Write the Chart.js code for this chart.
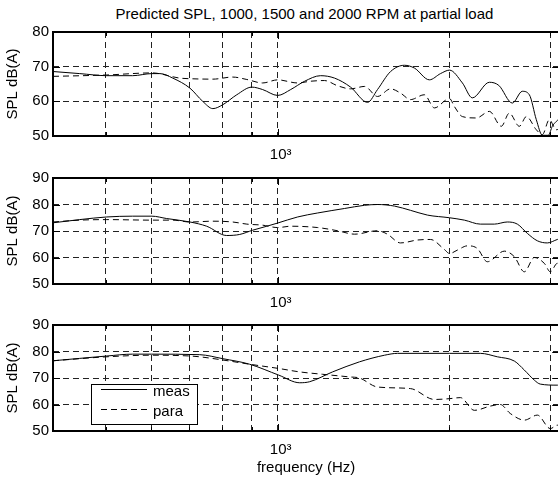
<!DOCTYPE html>
<html>
<head>
<meta charset="utf-8">
<script src="https://cdn.jsdelivr.net/npm/chart.js@4"></script>
<style>
  html, body { margin: 0; padding: 0; background: #fff; }
  body { width: 558px; height: 482px; overflow: hidden; position: relative; font-family: 'Liberation Sans', Arial, sans-serif; }
  canvas { position: absolute; left: 0; }
  #title { position: absolute; left: 51px; width: 507px; top: 5px; text-align: center; font-size: 15px; line-height: 18px; color: #000; white-space: nowrap; }
</style>
</head>
<body>
<div id="title">Predicted SPL, 1000, 1500 and 2000 RPM at partial load</div>
<canvas id="c1" width="560" height="170" style="top:0px"></canvas>
<canvas id="c2" width="560" height="172" style="top:146px"></canvas>
<canvas id="c3" width="560" height="189" style="top:293px"></canvas>
<script>
// ── Data ──────────────────────────────────────────────────────────────────────
const xGrid = [500, 600, 700, 800, 900, 1000, 2000, 3000];
const xMin = 404, xMax = 3114;

// 1000 RPM
const meas1Freq = [404, 450, 502, 557, 602, 622, 655, 702, 739, 770, 801, 848, 901, 941, 1000, 1054, 1115, 1189, 1258, 1342, 1437, 1496, 1577, 1668, 1736, 1844, 1929, 2000, 2107, 2193, 2349, 2440, 2577, 2683, 2760, 2839, 2909, 2980, 3028, 3077, 3114];
const meas1Spl  = [68.6, 68.0, 67.4, 67.4, 68.0, 68.0, 66.7, 63.8, 60.0, 57.9, 59.0, 61.9, 64.1, 63.4, 61.7, 63.4, 65.8, 67.4, 66.7, 64.1, 59.7, 63.4, 68.6, 70.4, 69.6, 66.2, 68.0, 69.0, 65.3, 61.0, 65.5, 64.6, 59.5, 62.9, 61.9, 54.7, 50.2, 50.2, 52.8, 54.2, 55.0];
const para1Freq = [404, 502, 602, 674, 710, 770, 834, 883, 941, 1000, 1084, 1142, 1208, 1273, 1342, 1420, 1496, 1577, 1641, 1709, 1807, 1882, 1976, 2000, 2040, 2107, 2229, 2349, 2465, 2546, 2651, 2727, 2839, 2909, 2992, 3077, 3114];
const para1Spl  = [67.2, 67.6, 68.2, 66.7, 66.5, 66.4, 67.0, 66.3, 65.3, 66.2, 65.3, 65.8, 66.0, 64.5, 63.6, 64.3, 61.4, 63.6, 62.4, 60.5, 61.9, 58.1, 60.5, 60.8, 58.5, 55.6, 55.2, 57.1, 52.8, 56.6, 52.8, 55.6, 51.8, 50.4, 54.7, 51.8, 52.0];

// 1500 RPM
const meas2Freq = [404, 450, 502, 557, 602, 639, 702, 751, 814, 858, 904, 957, 1000, 1084, 1175, 1310, 1420, 1496, 1602, 1709, 1830, 2000, 2124, 2265, 2397, 2525, 2630, 2738, 2851, 2968, 3090, 3114];
const meas2Spl  = [73.1, 74.3, 75.3, 75.6, 75.6, 74.7, 73.4, 71.8, 68.3, 68.7, 70.3, 71.8, 73.0, 75.3, 76.8, 78.5, 79.7, 80.0, 79.4, 77.8, 76.0, 75.0, 74.1, 72.6, 72.6, 73.4, 72.6, 69.1, 66.3, 65.5, 66.8, 67.0];
const para2Freq = [404, 450, 502, 602, 655, 702, 770, 834, 883, 941, 1000, 1054, 1175, 1273, 1364, 1496, 1557, 1641, 1758, 1852, 1960, 2000, 2065, 2150, 2238, 2330, 2495, 2598, 2705, 2816, 2932, 3004, 3090, 3114];
const para2Spl  = [73.4, 74.1, 74.3, 74.1, 74.1, 73.4, 73.7, 73.4, 72.6, 72.2, 71.3, 71.8, 71.3, 70.1, 68.8, 70.1, 68.8, 65.5, 66.6, 66.8, 63.0, 61.5, 62.8, 64.4, 63.4, 58.4, 62.4, 60.3, 54.6, 60.0, 57.8, 54.6, 57.8, 57.0];

// 2000 RPM
const meas3Freq = [404, 450, 502, 557, 602, 730, 801, 893, 1004, 1093, 1138, 1248, 1391, 1539, 1622, 2000, 2265, 2426, 2598, 2705, 2816, 2885, 3090, 3114];
const meas3Spl  = [76.5, 77.4, 78.3, 79.0, 79.0, 78.8, 77.3, 75.2, 71.1, 68.2, 68.6, 72.3, 76.1, 78.6, 79.3, 79.3, 79.3, 78.0, 76.4, 73.0, 69.2, 67.7, 67.3, 67.3];
const para3Freq = [404, 502, 602, 702, 730, 801, 893, 1004, 1093, 1199, 1337, 1391, 1496, 1709, 1882, 2000, 2090, 2211, 2358, 2455, 2556, 2705, 2851, 3004, 3090, 3114];
const para3Spl  = [76.5, 78.0, 78.6, 78.3, 78.0, 76.8, 75.2, 73.6, 72.3, 71.4, 70.4, 70.0, 66.6, 66.0, 61.9, 62.2, 62.6, 57.8, 59.4, 60.0, 56.6, 54.1, 56.0, 50.9, 52.2, 52.0];

const seriesLabels = ['meas', 'para'];

// ── Helpers ───────────────────────────────────────────────────────────────────
const FONT = { family: "'Liberation Sans', Arial, sans-serif", size: 15 };
const pairs = (xs, ys) => xs.map((x, i) => ({ x, y: ys[i] }));

// box + inward tick marks, MATLAB style
const framePlugin = {
  id: 'frame',
  afterDatasetsDraw(chart) {
    const { ctx, chartArea: a, scales: { x, y } } = chart;
    ctx.save();
    ctx.strokeStyle = '#000';
    ctx.lineWidth = 1;
    ctx.beginPath();
    x.ticks.forEach(t => {
      const px = Math.round(x.getPixelForValue(t.value)) + 0.5;
      const len = t.value === 1000 ? 7 : 4;
      ctx.moveTo(px, a.bottom); ctx.lineTo(px, a.bottom - len);
      ctx.moveTo(px, a.top); ctx.lineTo(px, a.top + len);
    });
    y.ticks.forEach(t => {
      const py = Math.round(y.getPixelForValue(t.value)) + 0.5;
      ctx.moveTo(a.left, py); ctx.lineTo(a.left + 7, py);
      ctx.moveTo(a.right, py); ctx.lineTo(a.right - 7, py);
    });
    ctx.stroke();
    ctx.lineWidth = 2;
    ctx.strokeRect(a.left, a.top, a.right - a.left, a.bottom - a.top);
    ctx.restore();
  }
};

// legend box drawn inside the bottom panel
const boxLegendPlugin = {
  id: 'boxLegend',
  afterDraw(chart) {
    if (!chart.options.plugins.boxLegend.show) return;
    const { ctx, chartArea: a } = chart;
    const bx = a.left + 38, by = a.top + 59, bw = 106, bh = 40;
    ctx.save();
    ctx.fillStyle = '#fff';
    ctx.fillRect(bx, by, bw, bh);
    ctx.strokeStyle = '#000';
    ctx.lineWidth = 1;
    ctx.strokeRect(bx + 0.5, by + 0.5, bw, bh);
    ctx.font = `${FONT.size}px ${FONT.family}`;
    ctx.textBaseline = 'middle';
    ctx.fillStyle = '#000';
    chart.data.datasets.forEach((ds, i) => {
      const ry = by + 5 + i * 20 + 0.5;
      ctx.setLineDash(ds.borderDash || []);
      ctx.beginPath();
      ctx.moveTo(bx + 10, ry);
      ctx.lineTo(bx + 56, ry);
      ctx.stroke();
      ctx.setLineDash([]);
      ctx.fillText(ds.label, bx + 62, ry + 2);
    });
    ctx.restore();
  }
};

function makePanel(id, measF, measY, paraF, paraY, yMax, xHeight, showXTitle, showLegend) {
  const yTicks = [];
  for (let v = 50; v <= yMax; v += 10) yTicks.push(v);

  return new Chart(document.getElementById(id), {
    type: 'line',
    data: {
      datasets: [
        { label: seriesLabels[0], data: pairs(measF, measY), borderColor: '#000', borderWidth: 1,
          pointRadius: 0, cubicInterpolationMode: 'monotone' },
        { label: seriesLabels[1], data: pairs(paraF, paraY), borderColor: '#000', borderWidth: 1,
          borderDash: [6, 4], pointRadius: 0, cubicInterpolationMode: 'monotone' }
      ]
    },
    options: {
      responsive: false,
      animation: false,
      events: [],
      layout: { padding: { top: 32, left: 0, right: 0, bottom: 0 } },
      plugins: {
        legend: { display: false },
        tooltip: { enabled: false },
        boxLegend: { show: showLegend }
      },
      scales: {
        x: {
          type: 'logarithmic',
          min: xMin,
          max: xMax,
          afterBuildTicks: s => { s.ticks = xGrid.map(v => ({ value: v })); },
          afterFit: s => { s.height = xHeight; },
          ticks: {
            autoSkip: false, maxRotation: 0, padding: 10, color: '#000', font: FONT,
            labelOffset: 3,
            callback: v => (v === 1000 ? '10³' : '')
          },
          grid: { color: '#222', lineWidth: 1, drawTicks: false },
          border: { display: false, dash: [6, 4] },
          title: { display: showXTitle, text: 'frequency (Hz)', color: '#000', font: FONT, padding: { top: 0, bottom: 5 } }
        },
        y: {
          min: 50,
          max: yMax,
          afterBuildTicks: s => { s.ticks = yTicks.map(v => ({ value: v })); },
          afterFit: s => { s.width = 53; },
          ticks: { padding: 4, color: '#000', font: FONT },
          grid: { color: '#222', lineWidth: 1, drawTicks: false },
          border: { display: false, dash: [6, 4] },
          title: { display: true, text: 'SPL dB(A)', color: '#000', font: FONT, padding: { top: 4, bottom: 0 } }
        }
      }
    },
    plugins: [framePlugin, boxLegendPlugin]
  });
}

makePanel('c1', meas1Freq, meas1Spl, para1Freq, para1Spl, 80, 34, false, false);
makePanel('c2', meas2Freq, meas2Spl, para2Freq, para2Spl, 90, 34, false, false);
makePanel('c3', meas3Freq, meas3Spl, para3Freq, para3Spl, 90, 51, true, true);
</script>
</body>
</html>
